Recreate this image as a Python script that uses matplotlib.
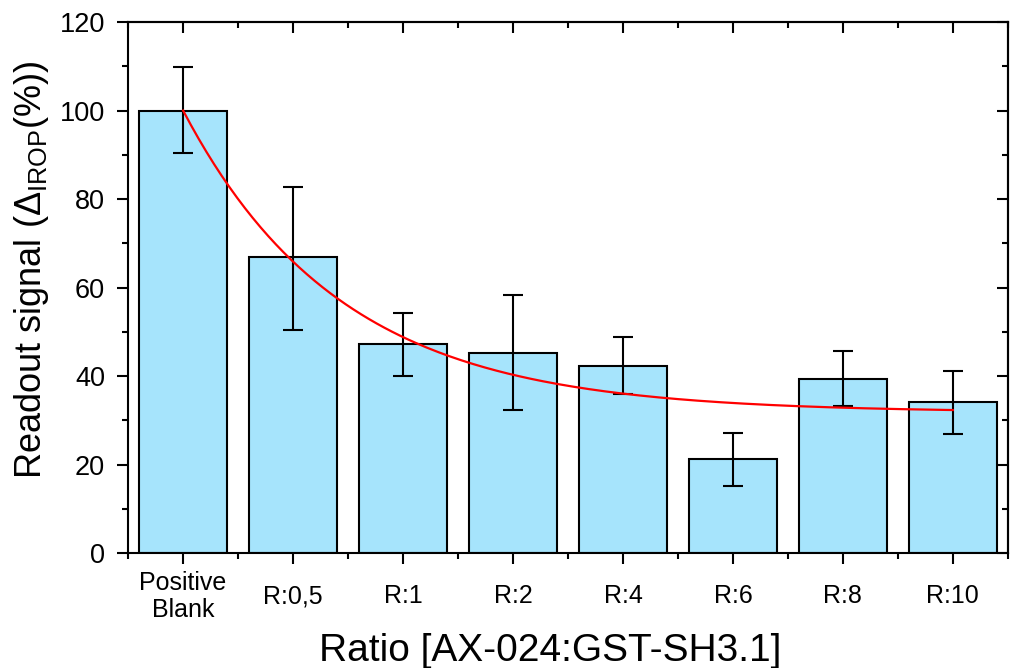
import numpy as np
import matplotlib
matplotlib.use('Agg')
import matplotlib.pyplot as plt
from matplotlib.ticker import MultipleLocator, FixedLocator, NullFormatter

plt.rcParams['font.family'] = ['Liberation Sans', 'DejaVu Sans']
plt.rcParams['mathtext.default'] = 'regular'

categories = ['Positive\nBlank', 'R:0,5', 'R:1', 'R:2', 'R:4', 'R:6', 'R:8', 'R:10']
signal = [100.0, 66.8, 47.3, 45.3, 42.3, 21.2, 39.4, 34.1]
err_up = [9.8, 15.9, 7.0, 13.1, 6.6, 6.0, 6.2, 7.0]
err_lo = [9.6, 16.3, 7.2, 13.0, 6.4, 6.0, 6.2, 7.1]

# exponential decay fit (y0 + A*exp(-x/t)), parameters
fit_y0, fit_a, fit_t = 31.8, 68.2, 1.44

x = np.arange(len(categories))
fig, ax = plt.subplots(figsize=(10.17, 6.68), dpi=100)
fig.subplots_adjust(left=0.126, right=0.991, top=0.967, bottom=0.172)

ax.bar(x, signal, width=0.8, color='#a6e4fc', edgecolor='black', linewidth=1.5, zorder=2)
ax.errorbar(x, signal, yerr=[err_lo, err_up], fmt='none', ecolor='black',
            elinewidth=1.5, capsize=7, capthick=1.5, zorder=3)

xf = np.linspace(x[0], x[-1], 200)
ax.plot(xf, fit_y0 + fit_a * np.exp(-xf / fit_t), color='red', lw=1.6, zorder=4)

ax.set_xlim(-0.5, len(categories) - 0.5)
ax.set_ylim(0, 120)

minor_x = np.arange(-0.5, len(categories), 1.0)

ax.set_xticks(x)
ax.set_xticklabels(categories, fontsize=18, linespacing=1.15)
plt.setp(ax.get_xticklabels(), va='center')
ax.xaxis.set_minor_locator(FixedLocator(minor_x))
ax.yaxis.set_major_locator(MultipleLocator(20))
ax.yaxis.set_minor_locator(MultipleLocator(10))
ax.tick_params(axis='y', labelsize=19.5, pad=8.5)
ax.tick_params(axis='x', pad=23)
ax.tick_params(which='major', direction='out', length=8, width=1.5)
ax.tick_params(which='minor', direction='out', length=4, width=1.5)

# top and right: inward ticks, no labels
top = ax.secondary_xaxis('top')
top.set_xticks(x)
top.xaxis.set_minor_locator(FixedLocator(minor_x))
top.xaxis.set_major_formatter(NullFormatter())
top.tick_params(which='major', direction='in', length=8, width=1.5)
top.tick_params(which='minor', direction='in', length=4, width=1.5)

right = ax.secondary_yaxis('right')
right.yaxis.set_major_locator(MultipleLocator(20))
right.yaxis.set_minor_locator(MultipleLocator(10))
right.yaxis.set_major_formatter(NullFormatter())
right.tick_params(which='major', direction='in', length=8, width=1.5)
right.tick_params(which='minor', direction='in', length=4, width=1.5)

for a in (ax, top, right):
    for s in a.spines.values():
        s.set_linewidth(1.5)

ax.set_ylabel(r'Readout signal ($\Delta_{IROP}$(%))', fontsize=26)
ax.set_xlabel('Ratio [AX-024:GST-SH3.1]', fontsize=28)
ax.yaxis.set_label_coords(-0.088, 0.533)
ax.xaxis.set_label_coords(0.48, -0.151)

plt.savefig('out.png', dpi=100)
